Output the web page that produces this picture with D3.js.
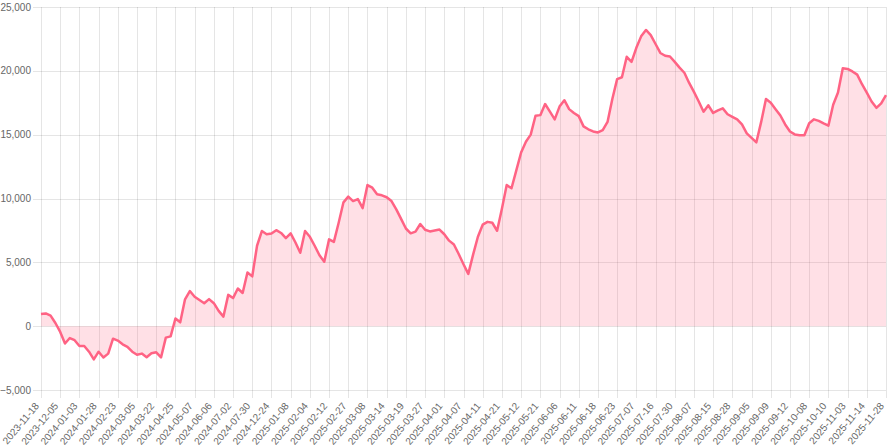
<!DOCTYPE html>
<meta charset="utf-8">
<style>
body { margin: 0; background: #fff; }
.grid line { stroke: rgba(0,0,0,0.1); shape-rendering: crispEdges; }
.tick-label { font-family: "Liberation Sans", Arial, sans-serif; font-size: 10px; fill: #666; }
.data-line { fill: none; stroke: rgb(255,99,132); stroke-width: 2.5px; stroke-linejoin: round; }
.data-area { fill: rgba(255,99,132,0.2); }
</style>
<body>
<script src="https://d3js.org/d3.v7.min.js"></script>
<script>

// labels shown on the x axis (one every 4 points)
var tickLabels = ["2023-11-18","2023-12-05","2024-01-03","2024-01-28","2024-02-23","2024-03-05",
    "2024-03-22","2024-04-25","2024-05-07","2024-06-06","2024-07-02","2024-07-30","2024-12-24",
    "2025-01-08","2025-02-04","2025-02-12","2025-02-27","2025-03-08","2025-03-14","2025-03-19",
    "2025-03-27","2025-04-01","2025-04-07","2025-04-11","2025-04-21","2025-05-12","2025-05-21",
    "2025-06-06","2025-06-11","2025-06-18","2025-06-23","2025-07-07","2025-07-16","2025-07-30",
    "2025-08-07","2025-08-15","2025-08-28","2025-09-05","2025-09-09","2025-09-12","2025-10-08",
    "2025-10-10","2025-11-03","2025-11-14","2025-11-28"];
var pointsPerLabel = 4;

var yTicks = [-5000, 0, 5000, 10000, 15000, 20000, 25000];

// cumulative values
var values = [
    950, 1000, 830, 250, -450, -1360, -930, -1100, -1560, -1550,
    -2000, -2600, -2000, -2450, -2150, -980, -1130, -1420, -1620, -2000,
    -2240, -2150, -2430, -2120, -2050, -2450, -900, -800, 600, 300,
    2100, 2750, 2300, 2050, 1800, 2120, 1800, 1200, 750, 2450,
    2200, 2950, 2600, 4200, 3900, 6300, 7450, 7200, 7250, 7520,
    7300, 6900, 7270, 6550, 5750, 7450, 7000, 6300, 5550, 5050,
    6800, 6600, 8100, 9700, 10150, 9800, 9950, 9250, 11050, 10850,
    10330, 10250, 10100, 9800, 9150, 8400, 7650, 7270, 7400, 8000,
    7550, 7420, 7500, 7570, 7200, 6700, 6400, 5650, 4850, 4100,
    5600, 7000, 7950, 8170, 8100, 7470, 9200, 11050, 10800, 12200,
    13600, 14450, 15000, 16480, 16530, 17400, 16800, 16200, 17200, 17700,
    17000, 16700, 16450, 15650, 15420, 15250, 15170, 15350, 16000, 17800,
    19350, 19500, 21100, 20700, 21800, 22700, 23200, 22800, 22100, 21400,
    21180, 21120, 20700, 20250, 19850, 19050, 18350, 17600, 16800, 17300,
    16700, 16900, 17060, 16600, 16400, 16200, 15800, 15100, 14750, 14400,
    16000, 17800, 17500, 17000, 16500, 15800, 15250, 15020, 14950, 14950,
    15900, 16200, 16080, 15880, 15700, 17350, 18300, 20200, 20150, 19950,
    19700, 18950, 18300, 17600, 17100, 17450, 18100
];

var margin = {top: 7, right: 10, bottom: 58, left: 41},
    width = 896 - margin.left - margin.right,
    height = 448 - margin.top - margin.bottom;

var svg = d3.select("body").append("svg")
    .attr("width", 896)
    .attr("height", 448)
  .append("g")
    .attr("transform", "translate(" + margin.left + "," + margin.top + ")");

var x = d3.scaleLinear().domain([0, values.length - 1]).range([0, width]);
var y = d3.scaleLinear().domain([-5000, 25000]).range([height, 0]);

var fmt = d3.format(",");

// horizontal grid + y labels
var gy = svg.append("g").attr("class", "grid");
gy.selectAll("line")
    .data(yTicks)
    .enter().append("line")
    .attr("x1", -8).attr("x2", width)
    .attr("y1", function(d) { return Math.round(y(d)) + 0.5; })
    .attr("y2", function(d) { return Math.round(y(d)) + 0.5; });

svg.selectAll(".ylab")
    .data(yTicks)
    .enter().append("text")
    .attr("class", "tick-label")
    .attr("text-anchor", "end")
    .attr("x", -10)
    .attr("y", function(d) { return y(d); })
    .attr("dy", "0.35em")
    .text(function(d) { return fmt(d); });

// vertical grid + rotated x labels
var tickIdx = tickLabels.map(function(d, i) { return i * pointsPerLabel; });

var gx = svg.append("g").attr("class", "grid");
gx.selectAll("line")
    .data(tickIdx)
    .enter().append("line")
    .attr("x1", function(d) { return Math.round(x(d)) + 0.5; })
    .attr("x2", function(d) { return Math.round(x(d)) + 0.5; })
    .attr("y1", 0).attr("y2", height + 8);

svg.selectAll(".xlab")
    .data(tickLabels)
    .enter().append("text")
    .attr("class", "tick-label")
    .attr("text-anchor", "end")
    .attr("transform", function(d, i) {
        return "translate(" + (x(tickIdx[i]) - 4) + "," + (height + 14) + ") rotate(-50)";
    })
    .attr("dy", "0.35em")
    .text(function(d) { return d; });

// fill to zero, then the line
var area = d3.area()
    .x(function(d, i) { return x(i); })
    .y0(y(0))
    .y1(function(d) { return y(d); });

var line = d3.line()
    .x(function(d, i) { return x(i); })
    .y(function(d) { return y(d); });

svg.append("path")
    .datum(values)
    .attr("class", "data-area")
    .attr("d", area);

svg.append("path")
    .datum(values)
    .attr("class", "data-line")
    .attr("d", line);

</script>
</body>
